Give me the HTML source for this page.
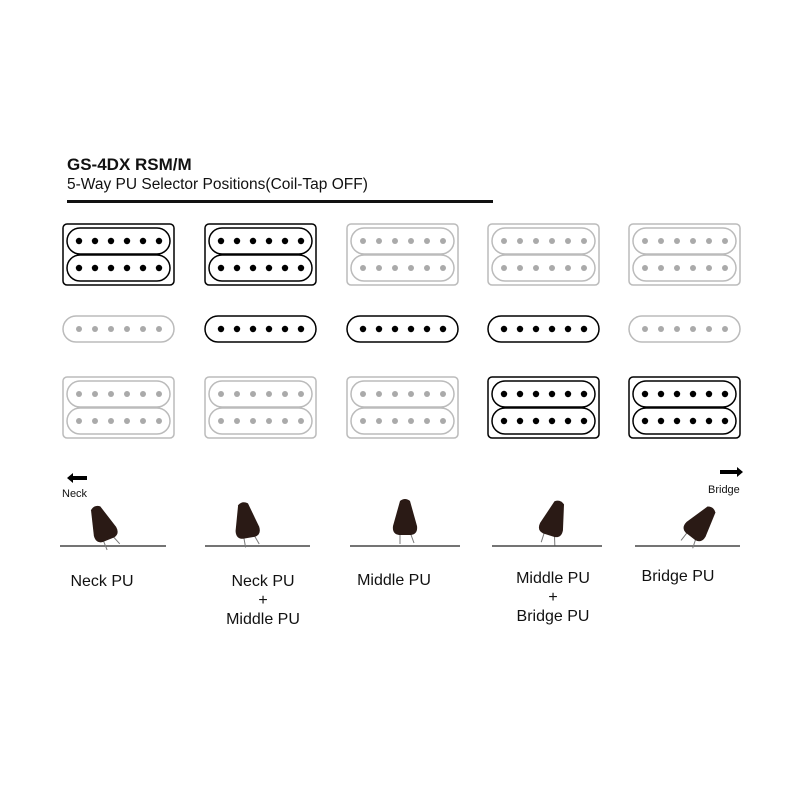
<!DOCTYPE html>
<html><head><meta charset="utf-8"><style>
html,body{margin:0;padding:0;background:#fff;}
body{width:800px;height:800px;position:relative;overflow:hidden;font-family:"Liberation Sans",sans-serif;}
.t{position:absolute;white-space:nowrap;color:#111;}
.lab{position:absolute;text-align:center;font-size:16px;line-height:19px;color:#111;width:160px;}
</style></head><body>
<div class="t" style="left:67px;top:155px;font-size:17px;font-weight:bold;">GS-4DX RSM/M</div>
<div class="t" style="left:67px;top:176px;font-size:15.5px;">5-Way PU Selector Positions(Coil-Tap OFF)</div>
<div style="position:absolute;left:67px;top:200px;width:426px;height:3px;background:#111"></div>
<svg id="s" width="800" height="800" style="position:absolute;left:0;top:0"></svg>
<div class="t" style="left:62px;top:488px;font-size:11px;">Neck</div>
<div class="t" style="left:708px;top:484px;font-size:11px;">Bridge</div>
<div class="lab" style="left:22px;top:572px;">Neck PU</div>
<div class="lab" style="left:183px;top:572px;">Neck PU<br>+<br>Middle PU</div>
<div class="lab" style="left:314px;top:571px;">Middle PU</div>
<div class="lab" style="left:473px;top:569px;">Middle PU<br>+<br>Bridge PU</div>
<div class="lab" style="left:598px;top:567px;">Bridge PU</div>
<script>
var s='',X=[63,205,347,488,629];
function hb(x,y,a){var c=a?'#000':'#bbb',d=a?'#000':'#aaa',o='';
o+='<rect x="'+x+'" y="'+y+'" width="111" height="61" rx="4" fill="none" stroke="'+c+'" stroke-width="1.5"/>';
for(var k=0;k<2;k++){var yy=y+4+k*27;o+='<rect x="'+(x+4)+'" y="'+yy+'" width="103" height="26" rx="13" fill="none" stroke="'+c+'" stroke-width="1.5"/>';
for(var i=0;i<6;i++)o+='<circle cx="'+(x+16+16*i)+'" cy="'+(yy+13)+'" r="'+(a?3.2:3)+'" fill="'+d+'"/>';}
return o;}
function sc(x,y,a){var c=a?'#000':'#bbb',d=a?'#000':'#aaa',o='<rect x="'+x+'" y="'+y+'" width="111" height="26" rx="13" fill="none" stroke="'+c+'" stroke-width="1.5"/>';
for(var i=0;i<6;i++)o+='<circle cx="'+(x+16+16*i)+'" cy="'+(y+13)+'" r="'+(a?3.2:3)+'" fill="'+d+'"/>';return o;}
var hn=[1,1,0,0,0],sm=[0,1,1,1,0],br=[0,0,0,1,1];
for(var j=0;j<5;j++){s+=hb(X[j],224,hn[j])+sc(X[j],316,sm[j])+hb(X[j],377,br[j]);}
var L=[[60,166],[205,310],[350,460],[492,602],[635,740]];
var K=[[102,524,-22],[246,521,-10],[405,518,0],[554,519,18],[701,523,38]];
for(var j=0;j<5;j++){s+='<line x1="'+L[j][0]+'" y1="546" x2="'+L[j][1]+'" y2="546" stroke="#222" stroke-width="1.3"/>';
var k=K[j];
s+='<g transform="translate('+k[0]+','+k[1]+') rotate('+k[2]+')"><line x1="-5" y1="14" x2="-5" y2="26" stroke="#777" stroke-width="1"/><line x1="5" y1="14" x2="9" y2="25" stroke="#777" stroke-width="1"/><path d="M-5,-17 Q0,-21 5,-17 L12,8 Q13,16 6,17 L-6,17 Q-13,16 -12,8 Z" fill="#2a1a15"/></g>';}
s+='<path d="M67,478 L73,473 L73,476 L87,476 L87,480 L73,480 L73,483 Z" fill="#000"/>';
s+='<path d="M743,472 L737,467 L737,470 L720,470 L720,474 L737,474 L737,477 Z" fill="#000"/>';
document.getElementById('s').innerHTML=s;
</script>
</body></html>
